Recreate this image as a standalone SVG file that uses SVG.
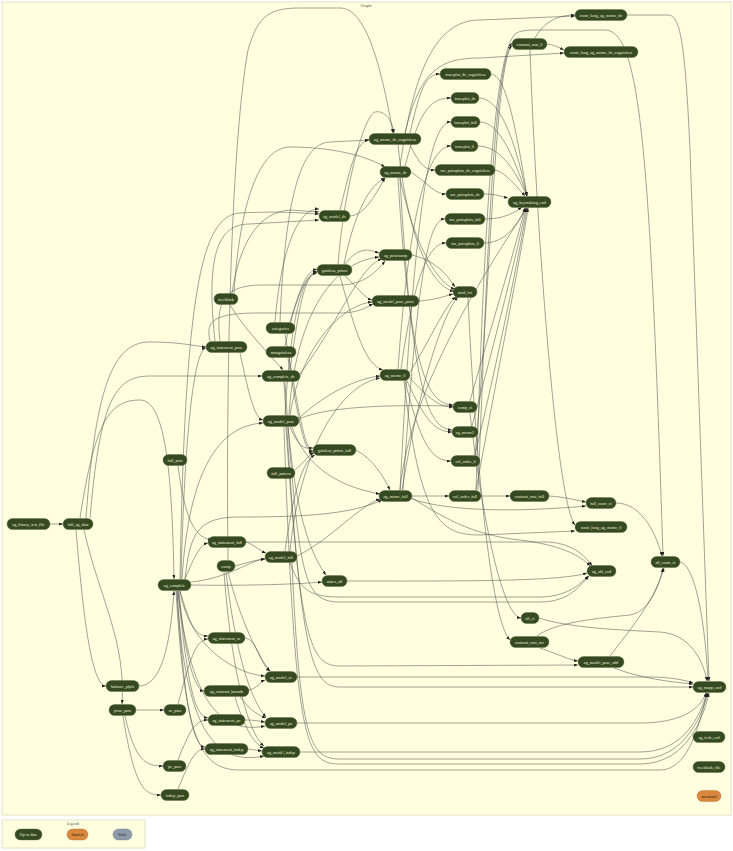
<svg xmlns="http://www.w3.org/2000/svg" width="733" height="851" viewBox="0 0 733 851">
<defs>
<marker id="a" markerWidth="4" markerHeight="3" refX="4" refY="1.5" orient="auto" markerUnits="userSpaceOnUse"><path d="M0,0 L4,1.5 L0,3 z" fill="#222"/></marker>
<style>
.e{fill:none;stroke:#555;stroke-width:0.55;marker-end:url(#a)}
.n rect{fill:#354a21;stroke:#5a6a3e;stroke-width:0.4}
.n text{font-family:"Liberation Serif","DejaVu Serif",serif;font-size:4.2px;fill:#eeeed6;text-anchor:middle}
.o rect{fill:#d9873d;stroke:#b06a2a}
.o text{fill:#2a1a08}
.s rect{fill:#8e9aa8;stroke:#6f7a88}
.s text{fill:#1e2530}
.frame{fill:#ffffe0;stroke:#e2e2c4;stroke-width:1}
.cap{font-family:"Liberation Serif","DejaVu Serif",serif;font-size:4.5px;fill:#555;text-anchor:middle}
</style>
</defs>
<rect width="733" height="851" fill="#ffffff"/>
<rect class="frame" x="2" y="2" width="729" height="813"/>
<text class="cap" x="366" y="7">Graph</text>

<g id="edges">
<path class="e" d="M50,524 L63,524"/>
<path class="e" d="M80,518 C95,420 110,400 140,400 C165,400 172,470 174,579"/>
<path class="e" d="M76,530 C82,600 90,686 106,686"/>
<path class="e" d="M84,530 C100,600 126,640 122,704"/>
<path class="e" d="M86,518 C96,380 115,342 150,342 C180,342 195,346 206,347"/>
<path class="e" d="M90,518 C100,400 115,376 150,376 L262,376"/>
<path class="e" d="M139,686 C160,686 170,650 174,591"/>
<path class="e" d="M136,710 L164,710"/>
<path class="e" d="M125,716 C135,760 145,766 163,766"/>
<path class="e" d="M123,716 C135,790 145,795 161,795"/>
<path class="e" d="M178,704 C190,660 195,640 208,639"/>
<path class="e" d="M178,760 C190,730 195,720 208,720"/>
<path class="e" d="M178,789 C190,760 195,749 205,749"/>
<path class="e" d="M178,466 C185,520 195,538 212,540"/>
<path class="e" d="M185,579 C195,555 200,545 208,543"/>
<path class="e" d="M180,591 C190,625 195,636 208,636"/>
<path class="e" d="M178,591 C188,690 195,716 208,718"/>
<path class="e" d="M177,591 C185,720 195,746 205,747"/>
<path class="e" d="M181,579 C185,420 195,350 206,348"/>
<path class="e" d="M179,591 C185,660 195,690 204,691"/>
<path class="e" d="M191,585 C250,586 300,584 322,582"/>
<path class="e" d="M191,582 C230,578 250,560 265,559"/>
<path class="e" d="M182,579 C190,450 230,425 263,423"/>
<path class="e" d="M180,579 C185,300 200,215 240,213 C280,211 300,213 319,214"/>
<path class="e" d="M185,579 C190,530 200,517 240,517 C300,517 350,515 382,500"/>
<path class="e" d="M180,591 C190,650 240,675 265,676"/>
<path class="e" d="M178,591 C190,700 220,735 265,726"/>
<path class="e" d="M177,591 C185,740 220,765 264,756"/>
<path class="e" d="M176,591 C185,740 200,770 240,770 L660,770 C690,770 700,720 707,693"/>
<path class="e" d="M412,498 C440,515 470,535 520,540 C560,545 580,555 590,566"/>
<path class="e" d="M246,542 L545,542 C570,542 585,555 592,566"/>
<path class="e" d="M347,581 C450,581 560,582 587,573"/>
<path class="e" d="M290,563 C300,590 310,597 340,597 L540,597 C565,597 580,585 588,576"/>
<path class="e" d="M288,427 C300,580 305,602 340,602 L540,602 C570,602 580,585 589,576"/>
<path class="e" d="M286,427 C300,640 310,666 340,666 L578,665"/>
<path class="e" d="M284,382 C300,650 310,687 340,687 L693,687"/>
<path class="e" d="M297,677 L650,677 C670,677 685,680 693,683"/>
<path class="e" d="M297,723 L640,723 C680,723 700,710 706,693"/>
<path class="e" d="M300,752 L640,752 C685,752 700,715 707,693"/>
<path class="e" d="M292,563 C300,740 310,759 340,759 L640,759 C685,759 702,715 708,693"/>
<path class="e" d="M284,427 C295,745 305,764 340,764 L640,764 C688,764 704,715 709,693"/>
<path class="e" d="M245,638 C258,640 260,665 270,671"/>
<path class="e" d="M249,690 C258,688 260,682 265,680"/>
<path class="e" d="M240,697 C250,710 258,715 266,718"/>
<path class="e" d="M235,697 C245,730 255,745 264,748"/>
<path class="e" d="M245,720 C255,720 258,721 265,722"/>
<path class="e" d="M248,749 L262,751"/>
<path class="e" d="M235,566 C250,562 255,560 265,559"/>
<path class="e" d="M228,572 C240,620 260,660 270,671"/>
<path class="e" d="M226,572 C235,650 250,700 266,717"/>
<path class="e" d="M224,572 C232,680 250,735 264,746"/>
<path class="e" d="M246,542 C255,545 258,550 266,553"/>
<path class="e" d="M240,353 C250,400 255,418 263,420"/>
<path class="e" d="M228,560 C226,400 230,150 248,50 C258,15 270,8 300,8 L340,8 C365,8 380,60 393,133"/>
<path class="e" d="M230,305 C245,330 270,355 283,370"/>
<path class="e" d="M215,341 C205,250 220,224 250,224 L319,220"/>
<path class="e" d="M232,293 C240,240 260,212 290,210 L319,212"/>
<path class="e" d="M275,322 C280,260 295,208 319,209"/>
<path class="e" d="M338,264 C345,180 365,115 375,112 C385,110 392,120 394,133"/>
<path class="e" d="M344,264 C355,210 370,185 385,178"/>
<path class="e" d="M345,264 C360,245 370,250 379,253"/>
<path class="e" d="M345,276 C360,290 365,298 372,300"/>
<path class="e" d="M340,276 C355,330 365,365 383,370"/>
<path class="e" d="M350,216 C365,215 375,195 385,178"/>
<path class="e" d="M340,210 C350,170 355,142 369,140"/>
<path class="e" d="M234,293 C240,200 260,147 290,147 C330,147 365,155 385,167"/>
<path class="e" d="M280,322 C285,200 300,143 330,142 L369,140"/>
<path class="e" d="M412,255 C440,262 450,280 455,287"/>
<path class="e" d="M419,301 C435,300 445,296 453,294"/>
<path class="e" d="M410,372 C430,340 445,305 456,297"/>
<path class="e" d="M400,178 C415,250 440,285 455,289"/>
<path class="e" d="M398,145 C410,260 440,290 454,291"/>
<path class="e" d="M402,490 C420,380 445,310 458,297"/>
<path class="e" d="M410,133 C420,90 425,74 440,74"/>
<path class="e" d="M410,145 C420,165 425,170 435,170"/>
<path class="e" d="M405,166 C420,110 430,98 451,98"/>
<path class="e" d="M411,172 C430,185 435,194 446,194"/>
<path class="e" d="M400,490 C415,200 430,122 451,122"/>
<path class="e" d="M403,490 C418,260 430,219 445,219"/>
<path class="e" d="M398,369 C410,200 430,146 451,146"/>
<path class="e" d="M401,369 C415,270 430,243 446,243"/>
<path class="e" d="M405,133 C420,70 440,58 480,58 L564,53"/>
<path class="e" d="M400,166 C415,60 440,20 480,20 L575,16"/>
<path class="e" d="M404,381 C420,520 440,535 480,535 L575,531"/>
<path class="e" d="M412,499 C450,512 520,512 586,506"/>
<path class="e" d="M412,496 L449,496"/>
<path class="e" d="M405,381 C420,440 430,461 451,461"/>
<path class="e" d="M410,378 C430,400 440,407 453,407"/>
<path class="e" d="M407,381 C425,420 435,432 452,432"/>
<path class="e" d="M398,178 C410,380 430,404 453,405"/>
<path class="e" d="M400,178 C412,400 430,428 452,430"/>
<path class="e" d="M400,490 C410,380 500,250 527,208"/>
<path class="e" d="M299,419 C330,405 400,405 453,406"/>
<path class="e" d="M290,427 C300,450 305,448 313,448"/>
<path class="e" d="M292,427 C310,480 360,490 380,494"/>
<path class="e" d="M299,418 C330,390 360,378 380,376"/>
<path class="e" d="M290,415 C300,350 340,305 372,302"/>
<path class="e" d="M285,415 C290,330 300,275 317,272"/>
<path class="e" d="M289,415 C295,320 330,262 379,257"/>
<path class="e" d="M290,551 C300,450 340,385 380,378"/>
<path class="e" d="M300,374 C340,320 360,265 382,259"/>
<path class="e" d="M290,370 C300,300 305,275 317,273"/>
<path class="e" d="M285,346 C295,300 305,275 317,271"/>
<path class="e" d="M290,322 C300,290 305,272 317,269"/>
<path class="e" d="M285,334 C300,420 305,450 313,451"/>
<path class="e" d="M288,358 C300,430 305,452 313,452"/>
<path class="e" d="M295,470 C305,462 308,455 314,453"/>
<path class="e" d="M285,551 C295,480 305,460 315,455"/>
<path class="e" d="M356,450 C375,460 385,480 390,490"/>
<path class="e" d="M297,556 C330,540 360,505 380,499"/>
<path class="e" d="M285,382 C290,470 300,540 326,575"/>
<path class="e" d="M220,341 C215,300 225,286 260,285 L340,285 C365,285 378,270 385,261"/>
<path class="e" d="M210,341 C205,320 215,313 260,313 L340,313 C360,313 368,306 373,304"/>
<path class="e" d="M470,401 C490,330 515,250 525,208"/>
<path class="e" d="M472,426 C495,340 518,250 526,208"/>
<path class="e" d="M475,455 C500,350 520,250 527,208"/>
<path class="e" d="M476,490 C500,360 522,250 528,208"/>
<path class="e" d="M475,455 C490,300 495,60 512,46"/>
<path class="e" d="M478,490 C486,300 492,70 512,43"/>
<path class="e" d="M481,496 L510,496"/>
<path class="e" d="M476,490 C482,300 490,60 515,34 C520,30 530,30 540,30 L605,30 C640,30 650,150 663,556"/>
<path class="e" d="M468,298 C475,450 490,620 510,640"/>
<path class="e" d="M470,413 C480,500 500,615 521,618"/>
<path class="e" d="M491,74 C505,75 515,120 527,196"/>
<path class="e" d="M479,98 C500,98 515,140 527,196"/>
<path class="e" d="M480,122 C500,122 515,160 527,196"/>
<path class="e" d="M478,146 C500,146 515,170 527,196"/>
<path class="e" d="M495,170 C505,172 515,185 525,196"/>
<path class="e" d="M484,194 C495,194 500,196 508,198"/>
<path class="e" d="M485,219 C505,219 515,212 522,207"/>
<path class="e" d="M484,243 C505,243 518,225 525,208"/>
<path class="e" d="M535,38 C545,20 560,15 575,15"/>
<path class="e" d="M547,44 C555,45 560,48 564,50"/>
<path class="e" d="M530,50 C535,200 555,500 575,525"/>
<path class="e" d="M549,496 C565,497 575,500 586,502"/>
<path class="e" d="M616,503 C640,503 655,530 662,556"/>
<path class="e" d="M540,648 C560,655 570,660 578,661"/>
<path class="e" d="M537,636 C555,622 600,618 630,615 C648,612 658,590 663,568"/>
<path class="e" d="M610,656 C630,630 655,600 664,568"/>
<path class="e" d="M614,668 C640,678 670,682 693,684"/>
<path class="e" d="M539,618 C570,628 620,630 660,632 C690,634 703,660 707,681"/>
<path class="e" d="M680,562 C695,565 705,620 708,681"/>
<path class="e" d="M627,15 L668,15 C680,15 685,40 690,150 L709,681"/>
</g>

<g id="contr_long_ag_mcmc_dc" class="n"><rect x="575" y="9.5" width="52" height="11" rx="5.5"/><text x="601" y="16.5">contr_long_ag_mcmc_dc</text></g>
<g id="contrast_mat_0" class="n"><rect x="512" y="38.5" width="35" height="11" rx="5.5"/><text x="529.5" y="45.5">contrast_mat_0</text></g>
<g id="contr_long_ag_mcmc_dc_cognizless" class="n"><rect x="564" y="46.5" width="74" height="11" rx="5.5"/><text x="601" y="53.5">contr_long_ag_mcmc_dc_cognizless</text></g>
<g id="traceplot_dc_cognizless" class="n"><rect x="440" y="68.5" width="51" height="11" rx="5.5"/><text x="465.5" y="75.5">traceplot_dc_cognizless</text></g>
<g id="traceplot_dc" class="n"><rect x="451" y="92.5" width="28" height="11" rx="5.5"/><text x="465" y="99.5">traceplot_dc</text></g>
<g id="traceplot_full" class="n"><rect x="451" y="116.5" width="29" height="11" rx="5.5"/><text x="465.5" y="123.5">traceplot_full</text></g>
<g id="traceplot_0" class="n"><rect x="451" y="140.5" width="27" height="11" rx="5.5"/><text x="464.5" y="147.5">traceplot_0</text></g>
<g id="ag_mcmc_dc_cognizless" class="n"><rect x="369" y="133.5" width="52" height="11" rx="5.5"/><text x="395" y="140.5">ag_mcmc_dc_cognizless</text></g>
<g id="ag_mcmc_dc" class="n"><rect x="380" y="166.5" width="31" height="11" rx="5.5"/><text x="395.5" y="173.5">ag_mcmc_dc</text></g>
<g id="mc_pairsplots_dc_cognizless" class="n"><rect x="435" y="164.5" width="60" height="11" rx="5.5"/><text x="465" y="171.5">mc_pairsplots_dc_cognizless</text></g>
<g id="mc_pairsplots_dc" class="n"><rect x="446" y="188.5" width="38" height="11" rx="5.5"/><text x="465" y="195.5">mc_pairsplots_dc</text></g>
<g id="ag_keymaking_end" class="n"><rect x="508" y="196.5" width="43" height="11" rx="5.5"/><text x="529.5" y="203.5">ag_keymaking_end</text></g>
<g id="ag_model_dc" class="n"><rect x="319" y="210.5" width="31" height="11" rx="5.5"/><text x="334.5" y="217.5">ag_model_dc</text></g>
<g id="mc_pairsplots_full" class="n"><rect x="445" y="213.5" width="40" height="11" rx="5.5"/><text x="465" y="220.5">mc_pairsplots_full</text></g>
<g id="mc_pairsplots_0" class="n"><rect x="446" y="237.5" width="38" height="11" rx="5.5"/><text x="465" y="244.5">mc_pairsplots_0</text></g>
<g id="ag_priorsamp" class="n"><rect x="379" y="249.5" width="33" height="11" rx="5.5"/><text x="395.5" y="256.5">ag_priorsamp</text></g>
<g id="gainless_priors" class="n"><rect x="317" y="264.5" width="35" height="11" rx="5.5"/><text x="334.5" y="271.5">gainless_priors</text></g>
<g id="mod_fct" class="n"><rect x="453" y="286.5" width="24" height="11" rx="5.5"/><text x="465" y="293.5">mod_fct</text></g>
<g id="treeblock" class="n"><rect x="214" y="293.5" width="24" height="11" rx="5.5"/><text x="226" y="300.5">treeblock</text></g>
<g id="ag_model_pose_prior" class="n"><rect x="372" y="295.5" width="47" height="11" rx="5.5"/><text x="395.5" y="302.5">ag_model_pose_prior</text></g>
<g id="categories" class="n"><rect x="266" y="322.5" width="29" height="11" rx="5.5"/><text x="280.5" y="329.5">categories</text></g>
<g id="ag_statement_pose" class="n"><rect x="206" y="341.5" width="41" height="11" rx="5.5"/><text x="226.5" y="348.5">ag_statement_pose</text></g>
<g id="maxgainless" class="n"><rect x="266" y="346.5" width="30" height="11" rx="5.5"/><text x="281" y="353.5">maxgainless</text></g>
<g id="ag_complete_dc" class="n"><rect x="262" y="370.5" width="38" height="11" rx="5.5"/><text x="281" y="377.5">ag_complete_dc</text></g>
<g id="ag_mcmc_0" class="n"><rect x="380" y="369.5" width="30" height="11" rx="5.5"/><text x="395" y="376.5">ag_mcmc_0</text></g>
<g id="comp_ci" class="n"><rect x="453" y="401.5" width="24" height="11" rx="5.5"/><text x="465" y="408.5">comp_ci</text></g>
<g id="ag_model_pose" class="n"><rect x="263" y="415.5" width="36" height="11" rx="5.5"/><text x="281" y="422.5">ag_model_pose</text></g>
<g id="ag_mcmc2" class="n"><rect x="452" y="426.5" width="26" height="11" rx="5.5"/><text x="465" y="433.5">ag_mcmc2</text></g>
<g id="gainless_priors_full" class="n"><rect x="313" y="444.5" width="43" height="11" rx="5.5"/><text x="334.5" y="451.5">gainless_priors_full</text></g>
<g id="full_pars" class="n"><rect x="163" y="454.5" width="24" height="11" rx="5.5"/><text x="175" y="461.5">full_pars</text></g>
<g id="col_order_0" class="n"><rect x="451" y="455.5" width="29" height="11" rx="5.5"/><text x="465.5" y="462.5">col_order_0</text></g>
<g id="full_pattern" class="n"><rect x="267" y="467.5" width="28" height="11" rx="5.5"/><text x="281" y="474.5">full_pattern</text></g>
<g id="ag_mcmc_full" class="n"><rect x="379" y="490.5" width="33" height="11" rx="5.5"/><text x="395.5" y="497.5">ag_mcmc_full</text></g>
<g id="col_order_full" class="n"><rect x="449" y="490.5" width="32" height="11" rx="5.5"/><text x="465" y="497.5">col_order_full</text></g>
<g id="contrast_mat_full" class="n"><rect x="510" y="490.5" width="39" height="11" rx="5.5"/><text x="529.5" y="497.5">contrast_mat_full</text></g>
<g id="full_contr_ci" class="n"><rect x="586" y="497.5" width="30" height="11" rx="5.5"/><text x="601" y="504.5">full_contr_ci</text></g>
<g id="ag_binary_test_file" class="n"><rect x="7" y="518.5" width="43" height="11" rx="5.5"/><text x="28.5" y="525.5">ag_binary_test_file</text></g>
<g id="full_ag_data" class="n"><rect x="63" y="518.5" width="30" height="11" rx="5.5"/><text x="78" y="525.5">full_ag_data</text></g>
<g id="contr_long_ag_mcmc_0" class="n"><rect x="575" y="521.5" width="52" height="11" rx="5.5"/><text x="601" y="528.5">contr_long_ag_mcmc_0</text></g>
<g id="ag_statement_full" class="n"><rect x="208" y="536.5" width="38" height="11" rx="5.5"/><text x="227" y="543.5">ag_statement_full</text></g>
<g id="ag_model_full" class="n"><rect x="265" y="551.5" width="32" height="11" rx="5.5"/><text x="281" y="558.5">ag_model_full</text></g>
<g id="all_contr_ci" class="n"><rect x="651" y="556.5" width="29" height="11" rx="5.5"/><text x="665.5" y="563.5">all_contr_ci</text></g>
<g id="contp" class="n"><rect x="217" y="560.5" width="18" height="11" rx="5.5"/><text x="226" y="567.5">contp</text></g>
<g id="ag_shl_end" class="n"><rect x="587" y="565.5" width="29" height="11" rx="5.5"/><text x="601.5" y="572.5">ag_shl_end</text></g>
<g id="states_all" class="n"><rect x="322" y="575.5" width="25" height="11" rx="5.5"/><text x="334.5" y="582.5">states_all</text></g>
<g id="ag_complete" class="n"><rect x="158" y="579.5" width="33" height="11" rx="5.5"/><text x="174.5" y="586.5">ag_complete</text></g>
<g id="all_ci" class="n"><rect x="521" y="612.5" width="18" height="11" rx="5.5"/><text x="530" y="619.5">all_ci</text></g>
<g id="ag_statement_sc" class="n"><rect x="208" y="632.5" width="37" height="11" rx="5.5"/><text x="226.5" y="639.5">ag_statement_sc</text></g>
<g id="contrast_mat_inv" class="n"><rect x="510" y="636.5" width="39" height="11" rx="5.5"/><text x="529.5" y="643.5">contrast_mat_inv</text></g>
<g id="ag_model_pose_add" class="n"><rect x="578" y="656.5" width="46" height="11" rx="5.5"/><text x="601" y="663.5">ag_model_pose_add</text></g>
<g id="ag_model_sc" class="n"><rect x="265" y="671.5" width="32" height="11" rx="5.5"/><text x="281" y="678.5">ag_model_sc</text></g>
<g id="balance_plpls" class="n"><rect x="106" y="680.5" width="33" height="11" rx="5.5"/><text x="122.5" y="687.5">balance_plpls</text></g>
<g id="ag_mapp_end" class="n"><rect x="693" y="681.5" width="33" height="11" rx="5.5"/><text x="709.5" y="688.5">ag_mapp_end</text></g>
<g id="ag_contrast_bounds" class="n"><rect x="204" y="685.5" width="45" height="11" rx="5.5"/><text x="226.5" y="692.5">ag_contrast_bounds</text></g>
<g id="pxso_pars" class="n"><rect x="109" y="704.5" width="27" height="11" rx="5.5"/><text x="122.5" y="711.5">pxso_pars</text></g>
<g id="sc_pars" class="n"><rect x="164" y="704.5" width="22" height="11" rx="5.5"/><text x="175" y="711.5">sc_pars</text></g>
<g id="ag_statement_pc" class="n"><rect x="208" y="714.5" width="37" height="11" rx="5.5"/><text x="226.5" y="721.5">ag_statement_pc</text></g>
<g id="ag_model_pc" class="n"><rect x="265" y="717.5" width="32" height="11" rx="5.5"/><text x="281" y="724.5">ag_model_pc</text></g>
<g id="ag_tech_end" class="n"><rect x="693" y="731.5" width="32" height="11" rx="5.5"/><text x="709" y="738.5">ag_tech_end</text></g>
<g id="ag_statement_indep" class="n"><rect x="205" y="743.5" width="43" height="11" rx="5.5"/><text x="226.5" y="750.5">ag_statement_indep</text></g>
<g id="ag_model_indep" class="n"><rect x="262" y="746.5" width="38" height="11" rx="5.5"/><text x="281" y="753.5">ag_model_indep</text></g>
<g id="pc_pars" class="n"><rect x="163" y="760.5" width="23" height="11" rx="5.5"/><text x="174.5" y="767.5">pc_pars</text></g>
<g id="treeblock_file" class="n"><rect x="693" y="761.5" width="32" height="11" rx="5.5"/><text x="709" y="768.5">treeblock_file</text></g>
<g id="indep_pars" class="n"><rect x="161" y="789.5" width="28" height="11" rx="5.5"/><text x="175" y="796.5">indep_pars</text></g>
<g id="mermaid" class="n o"><rect x="697" y="790.5" width="24" height="11" rx="5.5"/><text x="709" y="797.5">mermaid</text></g>

<g id="legend">
<rect class="frame" x="2" y="820" width="143" height="28"/>
<text class="cap" x="73" y="825">legend</text>
<g id="legend_uptodate" class="n"><rect x="15" y="829" width="27" height="11" rx="5.5"/><text x="28.5" y="836">Up to date</text></g>
<g id="legend_started" class="n o"><rect x="67" y="829" width="21" height="11" rx="5.5"/><text x="77.5" y="836">Started</text></g>
<g id="legend_stale" class="n s"><rect x="113" y="829" width="19" height="11" rx="5.5"/><text x="122.5" y="836">Stale</text></g>
</g>
</svg>
